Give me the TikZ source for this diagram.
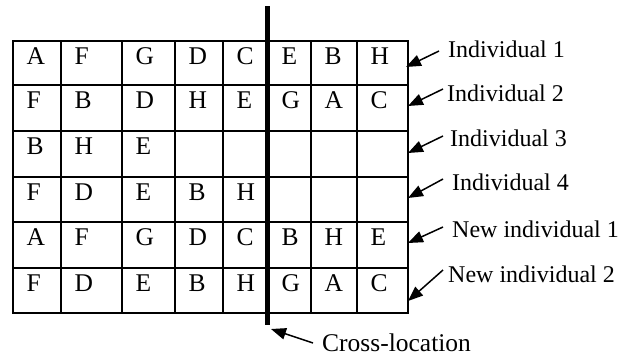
\documentclass[tikz,border=0pt]{standalone}
\usepackage{fontspec}
\setmainfont{Liberation Serif}
\usetikzlibrary{arrows.meta}

\tikzset{
  gridline/.style={line width=1.8bp, line cap=rect},
  cell/.style={anchor=base west, inner sep=0pt, font=\fontsize{25.5bp}{30bp}\selectfont},
  rowlabel/.style={anchor=base west, inner sep=0pt, font=\fontsize{24bp}{28bp}\selectfont},
  pointer/.style={line width=1.5bp, -{Triangle[length=15bp,width=11.5bp]}},
  cutline/.style={line width=5.5bp}
}

\begin{document}
\begin{tikzpicture}[x=1bp, y=-1bp]
  \useasboundingbox (0,0) rectangle (625,360);

  % column and row boundaries of the table
  \def\colx{{13,61,122,175,223,268,311,357,408}}
  \def\rowy{{41,85,131,177,222,268,313}}

  % table grid
  \foreach \y in {41,85,131,177,222,268,313}
    \draw[gridline] (13,\y) -- (408,\y);
  \foreach \x in {13,61,122,175,223,268,311,357,408}
    \draw[gridline] (\x,41) -- (\x,313);

  % genes of each individual
  \foreach \letters [count=\r from 0] in {
      {A,F,G,D,C,E,B,H},
      {F,B,D,H,E,G,A,C},
      {B,H,E},
      {F,D,E,B,H},
      {A,F,G,D,C,B,H,E},
      {F,D,E,B,H,G,A,C}} {
    \foreach \l [count=\c from 0] in \letters {
      \node[cell] (c-\r-\c) at ({\colx[\c]+13.5}, {\rowy[\r]+23.5}) {\l};
    }
  }

  % crossover cut
  \coordinate (cut-top) at (267.5,6);
  \coordinate (cut-bot) at (267.5,325);
  \draw[cutline] (cut-top) -- (cut-bot);

  % row labels
  \node[rowlabel] (lab1) at (448,57)  {Individual 1};
  \node[rowlabel] (lab2) at (447,101) {Individual 2};
  \node[rowlabel] (lab3) at (450,146) {Individual 3};
  \node[rowlabel] (lab4) at (452,190) {Individual 4};
  \node[rowlabel] (lab5) at (452,237) {New individual 1};
  \node[rowlabel] (lab6) at (448,282) {New individual 2};
  \node[anchor=base west, inner sep=0pt, font=\fontsize{25.5bp}{30bp}\selectfont]
    (labx) at (322,351) {Cross-location};

  % arrow ends
  \coordinate (s1) at (439,51);  \coordinate (e1) at (406,67);
  \coordinate (s2) at (443,89);  \coordinate (e2) at (408,106);
  \coordinate (s3) at (443,136); \coordinate (e3) at (408,153);
  \coordinate (s4) at (443,179); \coordinate (e4) at (408,198);
  \coordinate (s5) at (443,227); \coordinate (e5) at (408,243);
  \coordinate (s6) at (443,270); \coordinate (e6) at (408,301);
  \coordinate (sx) at (313,343); \coordinate (ex) at (271,329);

  \foreach \i in {1,...,6}
    \draw[pointer] (s\i) -- (e\i);
  \draw[pointer] (sx) -- (ex);
\end{tikzpicture}
\end{document}
